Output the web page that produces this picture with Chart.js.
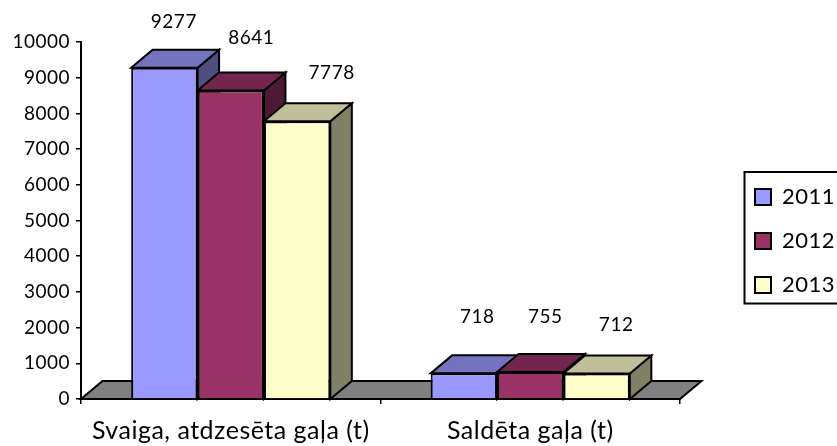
<!DOCTYPE html>
<html><head><meta charset="utf-8">
<style>html,body{margin:0;padding:0;background:#fff;overflow:hidden}#w{position:relative;width:837px;height:446px}</style>
<script src="https://cdn.jsdelivr.net/npm/chart.js@4"></script>
</head><body><div id="w"><canvas id="c" width="837" height="446"></canvas></div>
<script>
const categories = ['Svaiga, atdzesēta gaļa (t)', 'Saldēta gaļa (t)'];
const seriesNames = ['2011', '2012', '2013'];
const values2011 = [9277, 718];
const values2012 = [8641, 755];
const values2013 = [7778, 712];
const yTicks = [0,1000,2000,3000,4000,5000,6000,7000,8000,9000,10000];

const FONT = 'Lato, Carlito, "Open Sans", sans-serif';
const fills = ['#9999FF', '#993366', '#FFFFCC'];
const tops = ['#7373BF', '#73264D', '#BFBF99'];
const sides = ['#4D4D80', '#4D1A33', '#808066'];
const depth = {x: 21.5, y: -18};
const labelShift = [
  [[9.5,-45.5],[13.5,-56]],
  [[20.5,-52.5],[15,-55]],
  [[34.5,-48.3],[19.5,-48.6]]
];

function poly(ctx, pts, fill) {
  ctx.beginPath();
  pts.forEach((p,i)=> i ? ctx.lineTo(p[0],p[1]) : ctx.moveTo(p[0],p[1]));
  ctx.closePath();
  ctx.fillStyle = fill; ctx.fill();
  ctx.lineWidth = 2; ctx.strokeStyle = '#000'; ctx.lineJoin='miter'; ctx.stroke();
}

const threeD = {
  id: 'threeD',
  beforeDraw(chart) { chart.ctx.letterSpacing = '0.5px'; },
  beforeDatasetsDraw(chart) {
    const ctx = chart.ctx, a = chart.chartArea, b = a.bottom;
    ctx.save();
    poly(ctx, [[a.left,b],[a.left+depth.x,b+depth.y],[a.right+depth.x,b+depth.y],[a.right,b]], '#808080');
    for (let c = 0; c < categories.length; c++) {
      chart.data.datasets.forEach((ds, d) => {
        const el = chart.getDatasetMeta(d).data[c];
        const l = el.x - el.width/2, r = el.x + el.width/2, t = el.y;
        poly(ctx, [[r,t],[r+depth.x,t+depth.y],[r+depth.x,b+depth.y],[r,b]], sides[d]);
        poly(ctx, [[l,t],[l+depth.x,t+depth.y],[r+depth.x,t+depth.y],[r,t]], tops[d]);
      });
    }
    ctx.restore();
  },
  afterDatasetsDraw(chart) {
    const ctx = chart.ctx;
    ctx.save();
    ctx.font = '19px ' + FONT;
    ctx.fillStyle = '#000'; ctx.textAlign='center'; ctx.textBaseline='middle';
    chart.data.datasets.forEach((ds, d) => {
      chart.getDatasetMeta(d).data.forEach((el, c) => {
        ctx.fillText(String(ds.data[c]), el.x + labelShift[d][c][0], el.y + labelShift[d][c][1]);
      });
    });
    ctx.restore();
  },
  afterLayout(chart) {
    const l = chart.legend;
    l.left = 733; l.right = 900; l.top = 164; l.bottom = 400;
    l.width = 167; l.height = 236;
  },
  afterDraw(chart) {
    const ctx = chart.ctx;
    ctx.save();
    ctx.strokeStyle = '#000'; ctx.lineWidth = 2;
    ctx.strokeRect(744.5, 172, 120, 131.5);
    ctx.restore();
  }
};

new Chart(document.getElementById('c'), {
  type: 'bar',
  data: {
    labels: categories,
    datasets: [values2011, values2012, values2013].map((v,i)=>({
      label: seriesNames[i], data: v, backgroundColor: fills[i],
      borderColor: '#000', borderWidth: 2, barPercentage: 1, categoryPercentage: 0.665
    }))
  },
  options: {
    responsive: false, animation: false,
    layout: {padding: {top: 42, right: 157, bottom: 0, left: 0}},
    plugins: {
      tooltip: {enabled:false},
      legend: {
        position: 'chartArea', align: 'start',
        labels: {boxWidth: 16, boxHeight: 16, padding: 22, color:'#000', font:{family:FONT, size:22}}
      }
    },
    scales: {
      x: {
        grid: {drawOnChartArea:false, drawTicks:true, tickLength:5, color:'#000', lineWidth:1.5, offset:true},
        border: {color:'#000', width:2},
        ticks: {color:'#000', font:{family:FONT, size:25}, maxRotation:0, padding:12},
        afterFit(s){ s.height = 47; }
      },
      y: {
        min: 0, max: 10000,
        afterBuildTicks(s){ s.ticks = yTicks.map(v=>({value:v})); },
        grid: {drawOnChartArea:false, drawTicks:true, tickLength:5, color:'#000', lineWidth:1.5},
        border: {color:'#000', width:2},
        ticks: {color:'#000', font:{family:FONT, size:19}, padding:6, callback:(v)=>String(v)},
        afterFit(s){ s.width = 81; }
      }
    }
  },
  plugins: [threeD]
});
</script></body></html>
